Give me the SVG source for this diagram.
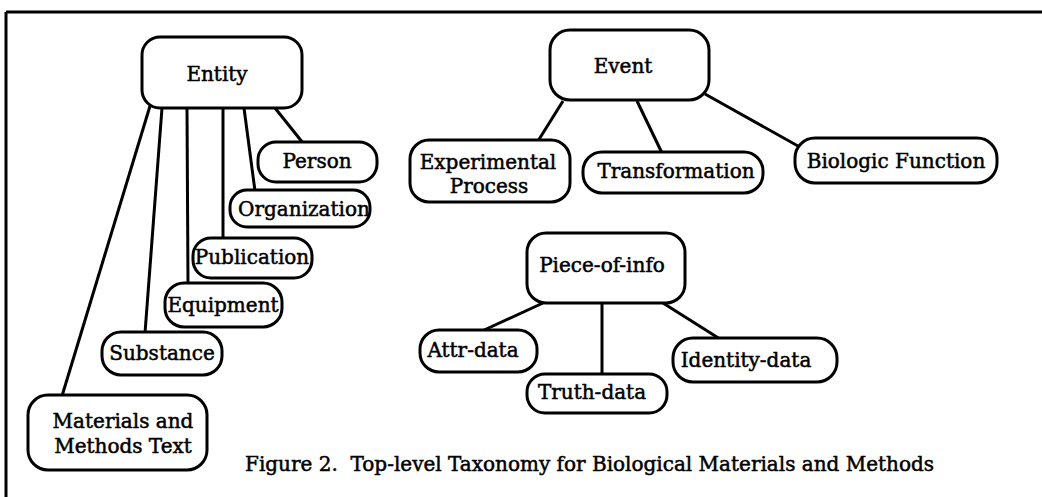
<svg xmlns="http://www.w3.org/2000/svg" width="1042" height="497" viewBox="0 0 1042 497">
<style>
.box{fill:#fff;stroke:#000;stroke-width:3}
.t{font-family:"DejaVu Serif","Liberation Serif",serif;font-size:20px;fill:#000;stroke:#000;stroke-width:0.5;text-anchor:middle}
.cap{font-family:"DejaVu Serif","Liberation Serif",serif;font-size:20px;fill:#000;stroke:#000;stroke-width:0.5;white-space:pre}
#connectors line{stroke:#000;stroke-width:3}
.frame{stroke:#000;stroke-width:3;fill:none}
</style>
<rect width="1042" height="497" fill="#fff"/>
<g id="frame">
<line class="frame" x1="6" y1="12" x2="1042" y2="12"/>
<line class="frame" x1="6" y1="12" x2="6" y2="497"/>
</g>
<g id="connectors">
<line x1="150" y1="106" x2="62" y2="396"/>
<line x1="162" y1="108" x2="145" y2="333"/>
<line x1="187" y1="108" x2="188" y2="284"/>
<line x1="223" y1="108" x2="223" y2="239"/>
<line x1="244" y1="108" x2="255" y2="191"/>
<line x1="275" y1="108" x2="303" y2="143"/>
<line x1="563" y1="101" x2="538" y2="141"/>
<line x1="637" y1="101" x2="662" y2="153"/>
<line x1="705" y1="94" x2="798" y2="146"/>
<line x1="543" y1="303" x2="482" y2="331"/>
<line x1="602" y1="303" x2="602" y2="374"/>
<line x1="663" y1="303" x2="720" y2="339"/>
</g>
<g id="entity"><rect class="box" x="142" y="37" width="160" height="71" rx="18"/><text class="t" x="217" y="81">Entity</text></g>
<g id="person"><rect class="box" x="258" y="142" width="119" height="40" rx="18"/><text class="t" x="317" y="168">Person</text></g>
<g id="organization"><rect class="box" x="230" y="190" width="140" height="37" rx="17"/><text class="t" x="304" y="216">Organization</text></g>
<g id="publication"><rect class="box" x="193" y="238" width="119" height="40" rx="18"/><text class="t" x="252" y="264">Publication</text></g>
<g id="equipment"><rect class="box" x="165" y="283" width="117" height="44" rx="19"/><text class="t" x="223" y="312">Equipment</text></g>
<g id="substance"><rect class="box" x="102" y="332" width="120" height="43" rx="19"/><text class="t" x="162" y="360">Substance</text></g>
<g id="materials"><rect class="box" x="28" y="395" width="179" height="75" rx="20"/><text class="t" x="123" y="428">Materials and</text><text class="t" x="123" y="453">Methods Text</text></g>
<g id="event"><rect class="box" x="550" y="30" width="159" height="70" rx="20"/><text class="t" x="623" y="73">Event</text></g>
<g id="experimental"><rect class="box" x="410" y="140" width="160" height="62" rx="19"/><text class="t" x="488" y="169">Experimental</text><text class="t" x="489" y="193">Process</text></g>
<g id="transformation"><rect class="box" x="583" y="152" width="180" height="41" rx="19"/><text class="t" x="676" y="178">Transformation</text></g>
<g id="biologic"><rect class="box" x="795" y="138" width="202" height="45" rx="20"/><text class="t" x="896" y="168">Biologic Function</text></g>
<g id="pieceofinfo"><rect class="box" x="527" y="233" width="158" height="70" rx="19"/><text class="t" x="602" y="272">Piece-of-info</text></g>
<g id="attr"><rect class="box" x="420" y="330" width="117" height="42" rx="19"/><text class="t" x="473" y="357">Attr-data</text></g>
<g id="truth"><rect class="box" x="527" y="374" width="140" height="39" rx="18"/><text class="t" x="592" y="399">Truth-data</text></g>
<g id="identity"><rect class="box" x="673" y="338" width="164" height="44" rx="20"/><text class="t" x="746" y="367">Identity-data</text></g>
<text class="cap" x="245" y="471">Figure 2.  Top-level Taxonomy for Biological Materials and Methods</text>
</svg>
